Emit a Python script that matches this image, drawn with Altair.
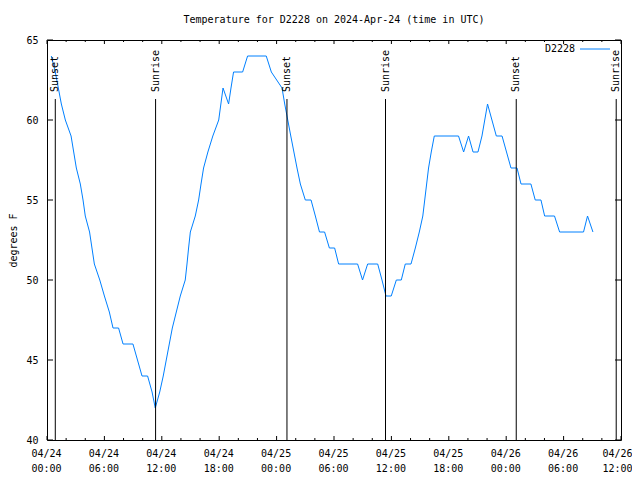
import altair as alt
import pandas as pd

# ---------------- data ----------------
obs_time = [
    "2024-04-24T00:27:00Z", "2024-04-24T00:52:00Z", "2024-04-24T01:11:00Z", "2024-04-24T01:30:00Z",
    "2024-04-24T01:55:00Z", "2024-04-24T02:31:00Z", "2024-04-24T03:04:00Z", "2024-04-24T03:29:00Z",
    "2024-04-24T03:46:00Z", "2024-04-24T04:00:00Z", "2024-04-24T04:27:00Z", "2024-04-24T04:57:00Z",
    "2024-04-24T05:31:00Z", "2024-04-24T06:00:00Z", "2024-04-24T06:31:00Z", "2024-04-24T06:54:00Z",
    "2024-04-24T07:29:00Z", "2024-04-24T07:57:00Z", "2024-04-24T08:59:00Z", "2024-04-24T09:56:00Z",
    "2024-04-24T10:31:00Z", "2024-04-24T10:59:00Z", "2024-04-24T11:19:00Z", "2024-04-24T11:47:00Z",
    "2024-04-24T12:09:00Z", "2024-04-24T12:28:00Z", "2024-04-24T12:47:00Z", "2024-04-24T13:06:00Z",
    "2024-04-24T13:31:00Z", "2024-04-24T13:56:00Z", "2024-04-24T14:27:00Z", "2024-04-24T14:38:00Z",
    "2024-04-24T14:48:00Z", "2024-04-24T14:59:00Z", "2024-04-24T15:30:00Z", "2024-04-24T15:51:00Z",
    "2024-04-24T16:06:00Z", "2024-04-24T16:22:00Z", "2024-04-24T16:49:00Z", "2024-04-24T17:20:00Z",
    "2024-04-24T17:57:00Z", "2024-04-24T18:24:00Z", "2024-04-24T18:59:00Z", "2024-04-24T19:14:00Z",
    "2024-04-24T19:30:00Z", "2024-04-24T20:27:00Z", "2024-04-24T20:58:00Z", "2024-04-24T22:55:00Z",
    "2024-04-24T23:27:00Z", "2024-04-25T00:34:00Z", "2024-04-25T00:51:00Z", "2024-04-25T01:10:00Z",
    "2024-04-25T01:29:00Z", "2024-04-25T02:08:00Z", "2024-04-25T02:29:00Z", "2024-04-25T03:00:00Z",
    "2024-04-25T03:36:00Z", "2024-04-25T04:03:00Z", "2024-04-25T04:29:00Z", "2024-04-25T05:01:00Z",
    "2024-04-25T05:31:00Z", "2024-04-25T06:04:00Z", "2024-04-25T06:29:00Z", "2024-04-25T08:28:00Z",
    "2024-04-25T08:59:00Z", "2024-04-25T09:31:00Z", "2024-04-25T10:34:00Z", "2024-04-25T11:01:00Z",
    "2024-04-25T11:26:00Z", "2024-04-25T11:59:00Z", "2024-04-25T12:31:00Z", "2024-04-25T13:02:00Z",
    "2024-04-25T13:27:00Z", "2024-04-25T14:03:00Z", "2024-04-25T14:30:00Z", "2024-04-25T14:55:00Z",
    "2024-04-25T15:17:00Z", "2024-04-25T15:29:00Z", "2024-04-25T15:53:00Z", "2024-04-25T16:10:00Z",
    "2024-04-25T16:29:00Z", "2024-04-25T19:01:00Z", "2024-04-25T19:33:00Z", "2024-04-25T20:04:00Z",
    "2024-04-25T20:32:00Z", "2024-04-25T21:03:00Z", "2024-04-25T21:28:00Z", "2024-04-25T22:03:00Z",
    "2024-04-25T22:58:00Z", "2024-04-25T23:34:00Z", "2024-04-26T00:30:00Z", "2024-04-26T01:08:00Z",
    "2024-04-26T01:33:00Z", "2024-04-26T02:35:00Z", "2024-04-26T03:02:00Z", "2024-04-26T03:38:00Z",
    "2024-04-26T04:01:00Z", "2024-04-26T05:03:00Z", "2024-04-26T05:35:00Z", "2024-04-26T08:05:00Z",
    "2024-04-26T08:30:00Z", "2024-04-26T09:04:00Z",
]
obs_temp = [
    64, 63, 62, 61,
    60, 59, 57, 56,
    55, 54, 53, 51,
    50, 49, 48, 47,
    47, 46, 46, 44,
    44, 43, 42, 43,
    44, 45, 46, 47,
    48, 49, 50, 51,
    52, 53, 54, 55,
    56, 57, 58, 59,
    60, 62, 61, 62,
    63, 63, 64, 64,
    63, 62, 61, 60,
    59, 57, 56, 55,
    55, 54, 53, 53,
    52, 52, 51, 51,
    50, 51, 51, 50,
    49, 49, 50, 50,
    51, 51, 52, 53,
    54, 55, 57, 58,
    59, 59, 58, 59,
    58, 58, 59, 61,
    59, 59, 57, 57,
    56, 56, 55, 55,
    54, 54, 53, 53,
    54, 53,
]

sun_time = [
    "2024-04-24T00:52:00Z", "2024-04-24T11:21:00Z", "2024-04-25T01:05:00Z",
    "2024-04-25T11:23:00Z", "2024-04-26T01:03:00Z", "2024-04-26T11:30:00Z",
]
sun_label = ["Sunset", "Sunrise", "Sunset", "Sunrise", "Sunset", "Sunrise"]

station = "D2228"
title_text = "Temperature for D2228 on 2024-Apr-24 (time in UTC)"
y_title = "degrees F"
y_tick_values = [40, 45, 50, 55, 60, 65]
x_label_days = [24, 24, 24, 24, 25, 25, 25, 25, 26, 26, 26]
x_label_hours = [0, 6, 12, 18, 0, 6, 12, 18, 0, 6, 12]

# ---------------- style ----------------
W, H = 574, 400
FONT = "DejaVu Sans Mono"
BLUE = "#0080ff"

obs = pd.DataFrame({"time": obs_time, "temp": obs_temp})
sun = pd.DataFrame({"time": sun_time, "label": sun_label})
tick_times = pd.date_range("2024-04-24 00:00", "2024-04-26 12:00", freq="2h")
ticks = pd.DataFrame({
    "time": tick_times.strftime("%Y-%m-%dT%H:%M:%SZ"),
    "major": [t.hour % 6 == 0 for t in tick_times],
})
major_ticks = ticks[ticks["major"]]
minor_ticks = ticks[~ticks["major"]]
yticks = pd.DataFrame({"temp": y_tick_values})
legend_df = pd.DataFrame({"name": [station]})

xscale = alt.Scale(
    type="utc",
    domain=[alt.DateTime(year=2024, month=4, date=24, hours=0, utc=True),
            alt.DateTime(year=2024, month=4, date=26, hours=12, utc=True)],
)
yscale = alt.Scale(domain=[40, 65], nice=False, zero=False)

x_axis = alt.Axis(
    values=[alt.DateTime(year=2024, month=4, date=d, hours=h, utc=True)
            for d, h in zip(x_label_days, x_label_hours)],
    labelExpr="[utcFormat(datum.value, '%m/%d'), utcFormat(datum.value, '%H:%M')]",
    ticks=False, domain=False, grid=False, title=None,
    labelFont=FONT, labelFontSize=10, labelColor="black",
    labelPadding=8, labelLineHeight=15, labelFlush=False, labelOverlap=False,
    labelAlign="center",
    labelOffset={"condition": {"test": "datum.index >= 0.99", "value": -4}, "value": -1},
)
y_axis = alt.Axis(
    values=y_tick_values, ticks=False, domain=False, grid=False,
    title=y_title, titleFont=FONT, titleFontSize=10, titleFontWeight="normal",
    titleColor="black", titlePadding=7,
    labelFont=FONT, labelFontSize=10, labelColor="black", labelPadding=9,
)

X = alt.X("time:T", scale=xscale, axis=x_axis)
Y = alt.Y("temp:Q", scale=yscale, axis=y_axis)

line = alt.Chart(obs).mark_line(color=BLUE, strokeWidth=1).encode(x=X, y=Y)

sun_rules = alt.Chart(sun).mark_rule(color="black", strokeWidth=1).encode(
    x=X, y=alt.value(59), y2=alt.value(H)
)
sun_text = alt.Chart(sun).mark_text(
    angle=270, align="left", baseline="middle", font=FONT, fontSize=10, color="black"
).encode(x=X, y=alt.value(52), text="label:N")

bot_major = alt.Chart(major_ticks).mark_rule(color="black").encode(
    x=X, y=alt.value(H), y2=alt.value(H - 4))
bot_minor = alt.Chart(minor_ticks).mark_rule(color="black").encode(
    x=X, y=alt.value(H), y2=alt.value(H - 2))
top_major = alt.Chart(major_ticks).mark_rule(color="black").encode(
    x=X, y=alt.value(0), y2=alt.value(4))
top_minor = alt.Chart(minor_ticks).mark_rule(color="black").encode(
    x=X, y=alt.value(0), y2=alt.value(2))
left_ticks = alt.Chart(yticks).mark_rule(color="black").encode(
    y=Y, x=alt.value(0), x2=alt.value(6))
right_ticks = alt.Chart(yticks).mark_rule(color="black").encode(
    y=Y, x=alt.value(W), x2=alt.value(W - 6))

leg_text = alt.Chart(legend_df).mark_text(
    align="right", baseline="middle", font=FONT, fontSize=10, color="black"
).encode(x=alt.value(528), y=alt.value(9), text="name:N")
leg_line = alt.Chart(legend_df).mark_rule(color=BLUE, strokeWidth=1).encode(
    x=alt.value(533), x2=alt.value(563), y=alt.value(9))

chart = alt.layer(
    line, sun_rules, sun_text, bot_major, bot_minor, top_major, top_minor,
    left_ticks, right_ticks, leg_text, leg_line,
).properties(
    width=W, height=H,
    title=alt.TitleParams(
        text=title_text, font=FONT, fontSize=10, fontWeight="normal",
        color="black", anchor="middle", offset=10,
    ),
    autosize=alt.AutoSizeParams(type="none"),
    padding={"left": 39, "top": 32, "right": 11, "bottom": 32},
    background="white",
).configure_view(stroke="black", strokeWidth=1)

chart.save("out.html", embed_options={"renderer": "svg", "actions": False})
